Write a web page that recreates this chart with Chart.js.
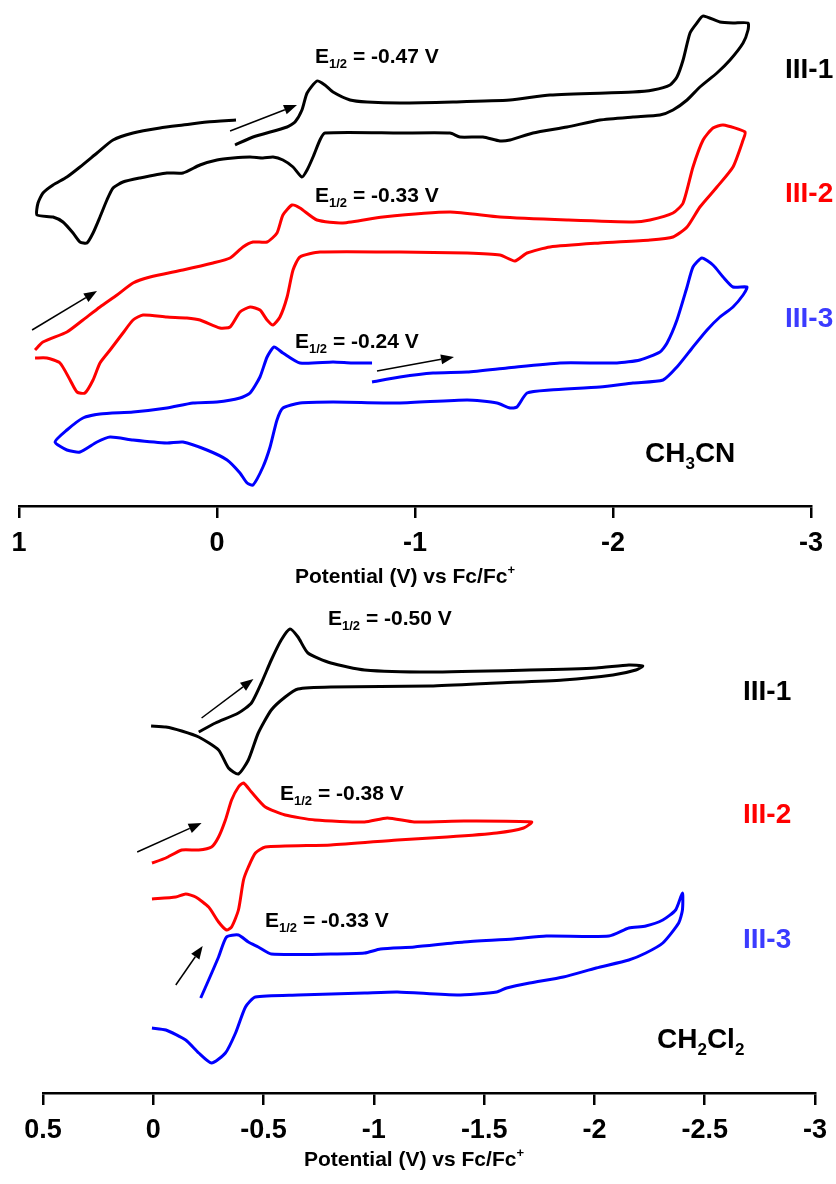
<!DOCTYPE html>
<html>
<head>
<meta charset="utf-8">
<title>Cyclic voltammograms III-1, III-2, III-3</title>
<script src="https://cdn.jsdelivr.net/npm/chart.js@4.4.1/dist/chart.umd.min.js"></script>
<style>
  body { margin: 0; background: #fff; }
  #wrap { position: relative; width: 836px; height: 1184px; }
  canvas { position: absolute; left: 0; }
  #acn { top: 0; }
  #dcm { top: 600px; }
</style>
</head>
<body>
<div id="wrap">
  <canvas id="acn" width="836" height="600"></canvas>
  <canvas id="dcm" width="836" height="584"></canvas>
</div>
<script>
// potentials are V vs Fc/Fc+, currents are arbitrary (traces offset for clarity)

// ---- CH3CN ----
const acnE1 = [-0.091,-0.182,-0.354,-0.394,-0.429,-0.455,-0.505,-0.545,-0.586,-0.672,
  -0.758,-0.924,-1.192,-1.480,-1.682,-2.101,-2.202,-2.288,-2.323,-2.354,
  -2.389,-2.424,-2.455,-2.540,-2.606,-2.682,-2.682,-2.657,-2.591,-2.525,
  -2.439,-2.374,-2.303,-2.237,-2.101,-1.934,-1.768,-1.596,-1.480,-1.429,
  -1.343,-1.227,-1.177,-0.924,-0.545,-0.520,-0.485,-0.455,-0.429,-0.384,
  -0.333,-0.283,-0.232,-0.167,-0.081,0,0.086,0.172,0.253,0.389,
  0.475,0.525,0.556,0.591,0.626,0.657,0.692,0.727,0.778,0.828,
  0.909,0.904,0.879,0.828,0.758,0.692,0.606,0.525,0.424,0.288,
  0.172,0.051,-0.096];
const acnI1 = [36.1,36.9,37.9,38.4,39.6,41.3,42.5,42.1,41.4,40.6,
  40.4,40.3,40.4,40.6,41.1,41.4,41.6,42.1,42.9,44.6,
  47.3,48.3,49.0,48.4,48.3,48.3,47.6,46.3,44.6,43.3,
  41.9,40.6,39.6,39.1,38.9,38.6,37.9,37.3,36.6,36.5,
  36.9,36.9,37.3,37.3,37.3,36.6,34.9,33.6,32.9,33.9,
  34.6,34.9,34.8,34.9,34.8,34.6,34.1,33.3,33.3,32.8,
  32.4,31.8,30.6,28.9,27.3,26.3,26.4,27.3,28.4,28.9,
  29.1,30.3,31.3,32.1,32.9,33.9,35.3,36.6,37.3,37.8,
  38.1,38.4,38.6];

const acnE2 = [0.919,0.879,0.758,0.677,0.591,0.505,0.424,0.338,0.172,0.020,
  -0.066,-0.131,-0.182,-0.253,-0.303,-0.333,-0.379,-0.419,-0.505,-0.636,
  -0.838,-1.177,-1.429,-1.768,-2.101,-2.187,-2.303,-2.354,-2.404,-2.455,
  -2.505,-2.556,-2.667,-2.657,-2.606,-2.525,-2.439,-2.374,-2.303,-2.187,
  -1.934,-1.682,-1.566,-1.505,-1.429,-1.263,-0.924,-0.520,-0.419,-0.384,
  -0.354,-0.318,-0.283,-0.253,-0.217,-0.167,-0.116,-0.066,-0.015,0.086,
  0.152,0.253,0.374,0.424,0.475,0.540,0.591,0.626,0.667,0.707,
  0.742,0.793,0.859,0.919];
const acnI2 = [15.6,16.4,17.4,18.6,19.9,21.1,22.3,22.9,23.6,24.3,
  24.8,25.9,26.4,26.4,27.3,29.1,30.1,29.8,28.6,28.3,
  28.9,29.4,28.9,28.6,28.4,28.6,29.3,30.3,33.9,36.6,
  37.8,38.1,37.4,36.6,33.9,31.9,29.9,27.9,26.9,26.6,
  26.3,25.9,25.3,24.5,25.1,25.3,25.4,25.4,24.9,23.6,
  20.9,18.9,18.1,18.6,19.6,19.9,19.4,17.9,17.8,18.6,
  18.8,18.9,19.1,18.6,17.3,15.6,14.3,12.6,11.3,11.4,
  12.6,14.3,14.8,14.8];

const acnE3 = [-0.783,-0.924,-1.091,-1.263,-1.465,-1.732,-2.020,-2.136,-2.237,-2.273,
  -2.323,-2.374,-2.404,-2.449,-2.505,-2.556,-2.606,-2.677,-2.657,-2.606,
  -2.540,-2.475,-2.404,-2.323,-2.253,-2.101,-1.934,-1.682,-1.566,-1.515,
  -1.480,-1.414,-1.263,-0.924,-0.586,-0.419,-0.333,-0.303,-0.268,-0.232,
  -0.182,-0.152,-0.116,-0.051,0.051,0.172,0.253,0.424,0.540,0.606,
  0.692,0.758,0.818,0.758,0.677,0.591,0.424,0.253,0.121,0,
  -0.116,-0.167,-0.217,-0.253,-0.288,-0.333,-0.419,-0.586,-0.682,-0.783];
const acnI3 = [12.4,12.9,13.3,13.4,13.8,14.3,14.3,14.6,15.4,16.3,
  18.6,21.9,23.9,24.8,24.1,22.9,21.9,21.9,21.1,19.9,
  18.9,17.6,15.9,13.9,12.6,12.3,11.9,11.6,11.3,9.9,
  9.8,10.3,10.6,10.3,10.4,10.3,9.8,8.6,5.9,3.9,
  2.1,2.3,3.3,4.6,5.6,6.4,6.3,6.6,6.9,6.4,
  5.4,5.6,6.4,7.6,8.8,9.2,9.4,9.8,10.3,10.4,
  10.8,11.3,12.9,14.9,15.9,15.3,14.3,14.4,14.3,14.3];

// scan direction arrows [E tail, I tail, E head, I head]
const acnArrows = [[-0.066,37.5,-0.404,40.1],[0.934,17.6,0.606,21.5],[-0.808,13.5,-1.197,14.9]];

// ---- CH2Cl2 ----
const dcmE1 = [-0.206,-0.282,-0.386,-0.445,-0.490,-0.535,-0.580,-0.620,-0.656,-0.701,
  -0.805,-0.958,-1.256,-1.706,-2.008,-2.156,-2.219,-2.188,-2.084,-1.859,
  -1.557,-1.256,-0.805,-0.656,-0.598,-0.535,-0.476,-0.431,-0.386,-0.341,
  -0.296,-0.206,-0.129,-0.057,0.010];
const dcmI1 = [36.1,37.0,38.0,39.0,41.0,43.3,45.3,46.4,45.6,44.0,
  43.0,42.3,42.1,42.3,42.5,42.8,42.7,42.3,41.8,41.3,
  41.0,40.7,40.6,40.4,39.6,38.3,36.0,33.3,31.9,32.5,
  34.3,35.6,36.2,36.6,36.7];

const dcmE2 = [0.006,-0.057,-0.129,-0.206,-0.264,-0.296,-0.327,-0.355,-0.386,-0.409,
  -0.445,-0.508,-0.598,-0.733,-0.958,-1.061,-1.183,-1.408,-1.715,-1.679,
  -1.557,-1.332,-1.107,-0.805,-0.508,-0.463,-0.431,-0.409,-0.386,-0.355,
  -0.332,-0.296,-0.251,-0.192,-0.147,-0.102,0.006];
const dcmI2 = [23.0,23.5,24.3,24.3,24.6,25.6,27.3,29.3,30.6,31.0,
  30.1,28.6,27.8,27.3,27.1,27.5,27.1,27.2,27.1,26.5,
  26.0,25.6,25.3,24.8,24.6,24.0,22.6,21.3,18.3,16.6,
  16.3,17.1,18.6,19.6,19.9,19.6,19.4];

const dcmE3 = [-0.215,-0.251,-0.296,-0.332,-0.386,-0.431,-0.476,-0.535,-0.805,-0.958,
  -1.030,-1.183,-1.408,-1.633,-1.782,-2.066,-2.156,-2.233,-2.310,-2.368,
  -2.399,-2.399,-2.382,-2.310,-2.233,-2.156,-2.008,-1.859,-1.706,-1.602,
  -1.557,-1.377,-1.107,-0.958,-0.656,-0.463,-0.418,-0.373,-0.327,-0.264,
  -0.206,-0.147,-0.057,0.006];
const dcmI3 = [9.5,11.3,13.6,15.6,15.8,15.1,14.6,13.9,13.9,14.0,
  14.4,14.6,15.1,15.4,15.7,15.7,16.5,16.7,17.3,18.3,
  20.0,18.3,17.0,15.0,14.0,13.3,12.5,11.6,11.0,10.5,
  10.1,9.8,10.1,10.0,9.8,9.6,8.6,6.0,4.0,3.0,
  4.0,5.3,6.3,6.5];

const dcmArrows = [[-0.219,37.5,-0.454,41.4],[0.073,24.1,-0.219,27.0],[-0.102,10.8,-0.224,14.7]];

const FONT = '"Liberation Sans", Arial, sans-serif';
const axisTitle = [['Potential (V) vs Fc/Fc', 'n'], ['+', 'sup']];

const pts = (e, i) => e.map((v, k) => ({x: v, y: i[k]}));

// text with sub/superscripts, y is the baseline
function richText(ctx, t) {
  const parts = t.parts;
  const fontFor = m => `bold ${m === 'n' ? t.size : Math.round(t.size * 0.62)}px ${FONT}`;
  let w = 0;
  parts.forEach(([s, m]) => { ctx.font = fontFor(m); w += ctx.measureText(s).width; });
  let cx = t.align === 'center' ? t.x - w / 2 : t.x;
  ctx.fillStyle = t.color || '#000';
  ctx.textBaseline = 'alphabetic';
  ctx.textAlign = 'left';
  parts.forEach(([s, m]) => {
    ctx.font = fontFor(m);
    const dy = m === 'sub' ? t.size * 0.25 : m === 'sup' ? -t.size * 0.42 : 0;
    ctx.fillText(s, cx, t.y + dy);
    cx += ctx.measureText(s).width;
  });
}

const cvNotes = {
  id: 'cvNotes',
  afterDraw(chart, args, opts) {
    const {ctx} = chart;
    const {x, y} = chart.scales;
    ctx.save();
    ctx.strokeStyle = '#000';
    ctx.fillStyle = '#000';
    ctx.lineWidth = 1.5;
    (opts.arrows || []).forEach(a => {
      const x0 = x.getPixelForValue(a[0]), y0 = y.getPixelForValue(a[1]);
      const x1 = x.getPixelForValue(a[2]), y1 = y.getPixelForValue(a[3]);
      const ang = Math.atan2(y1 - y0, x1 - x0);
      const hl = 13, hw = 5;
      const bx = x1 - hl * Math.cos(ang), by = y1 - hl * Math.sin(ang);
      ctx.beginPath();
      ctx.moveTo(x0, y0);
      ctx.lineTo(bx, by);
      ctx.stroke();
      ctx.beginPath();
      ctx.moveTo(x1, y1);
      ctx.lineTo(bx + hw * Math.sin(ang), by - hw * Math.cos(ang));
      ctx.lineTo(bx - hw * Math.sin(ang), by + hw * Math.cos(ang));
      ctx.closePath();
      ctx.fill();
    });
    (opts.texts || []).forEach(t => richText(ctx, t));
    ctx.restore();
  }
};

const half = (v) => [['E', 'n'], ['1/2', 'sub'], [` = ${v} V`, 'n']];

function cvChart(id, series, xr, step, yMax, pad, axisH, notes) {
  return new Chart(document.getElementById(id), {
    type: 'scatter',
    data: {
      datasets: series.map(s => ({
        data: pts(s[0], s[1]),
        showLine: true,
        borderColor: s[2],
        borderWidth: 3,
        pointRadius: 0,
        tension: 0.2,
        fill: false
      }))
    },
    options: {
      responsive: false,
      animation: false,
      events: [],
      layout: {padding: pad},
      plugins: {legend: {display: false}, tooltip: {enabled: false}, cvNotes: notes},
      scales: {
        x: {
          type: 'linear',
          reverse: true,
          min: xr[0],
          max: xr[1],
          afterFit: s => { s.height = axisH; },
          border: {display: true, color: '#000', width: 2.5},
          grid: {drawOnChartArea: false, drawTicks: true, tickLength: 12, color: '#000', lineWidth: 2.5},
          ticks: {
            stepSize: step,
            padding: 9,
            maxRotation: 0,
            autoSkip: false,
            color: '#000',
            font: {family: FONT, size: 27, weight: 'bold'},
            callback: v => String(+v.toFixed(2))
          }
        },
        y: {display: false, min: 0, max: yMax}
      }
    },
    plugins: [cvNotes]
  });
}

cvChart('acn',
  [[acnE1, acnI1, '#000000'], [acnE2, acnI2, '#ff0000'], [acnE3, acnI3, '#0000ff']],
  [-3, 1], 1, 50.6, {left: 19, right: 25, top: 0, bottom: 0}, 94,
  {
    arrows: acnArrows,
    texts: [
      {x: 315, y: 63, size: 21, parts: half('-0.47')},
      {x: 315, y: 202, size: 21, parts: half('-0.33')},
      {x: 295, y: 348, size: 21, parts: half('-0.24')},
      {x: 785, y: 78, size: 28, parts: [['III-1', 'n']]},
      {x: 785, y: 202, size: 28, color: '#ff0000', parts: [['III-2', 'n']]},
      {x: 785, y: 327, size: 28, color: '#3b3bff', parts: [['III-3', 'n']]},
      {x: 645, y: 462, size: 28, parts: [['CH', 'n'], ['3', 'sub'], ['CN', 'n']]},
      {x: 405, y: 583, size: 21, align: 'center', parts: axisTitle}
    ]
  });

cvChart('dcm',
  [[dcmE1, dcmI1, '#000000'], [dcmE2, dcmI2, '#ff0000'], [dcmE3, dcmI3, '#0000ff']],
  [-3, 0.5], 0.5, 49.3, {left: 43, right: 16, top: 0, bottom: 0}, 91,
  {
    arrows: dcmArrows,
    texts: [
      {x: 328, y: 25, size: 21, parts: half('-0.50')},
      {x: 280, y: 200, size: 21, parts: half('-0.38')},
      {x: 265, y: 327, size: 21, parts: half('-0.33')},
      {x: 743, y: 100, size: 28, parts: [['III-1', 'n']]},
      {x: 743, y: 223, size: 28, color: '#ff0000', parts: [['III-2', 'n']]},
      {x: 743, y: 348, size: 28, color: '#3b3bff', parts: [['III-3', 'n']]},
      {x: 657, y: 448, size: 28, parts: [['CH', 'n'], ['2', 'sub'], ['Cl', 'n'], ['2', 'sub']]},
      {x: 414, y: 566, size: 21, align: 'center', parts: axisTitle}
    ]
  });
</script>
</body>
</html>
